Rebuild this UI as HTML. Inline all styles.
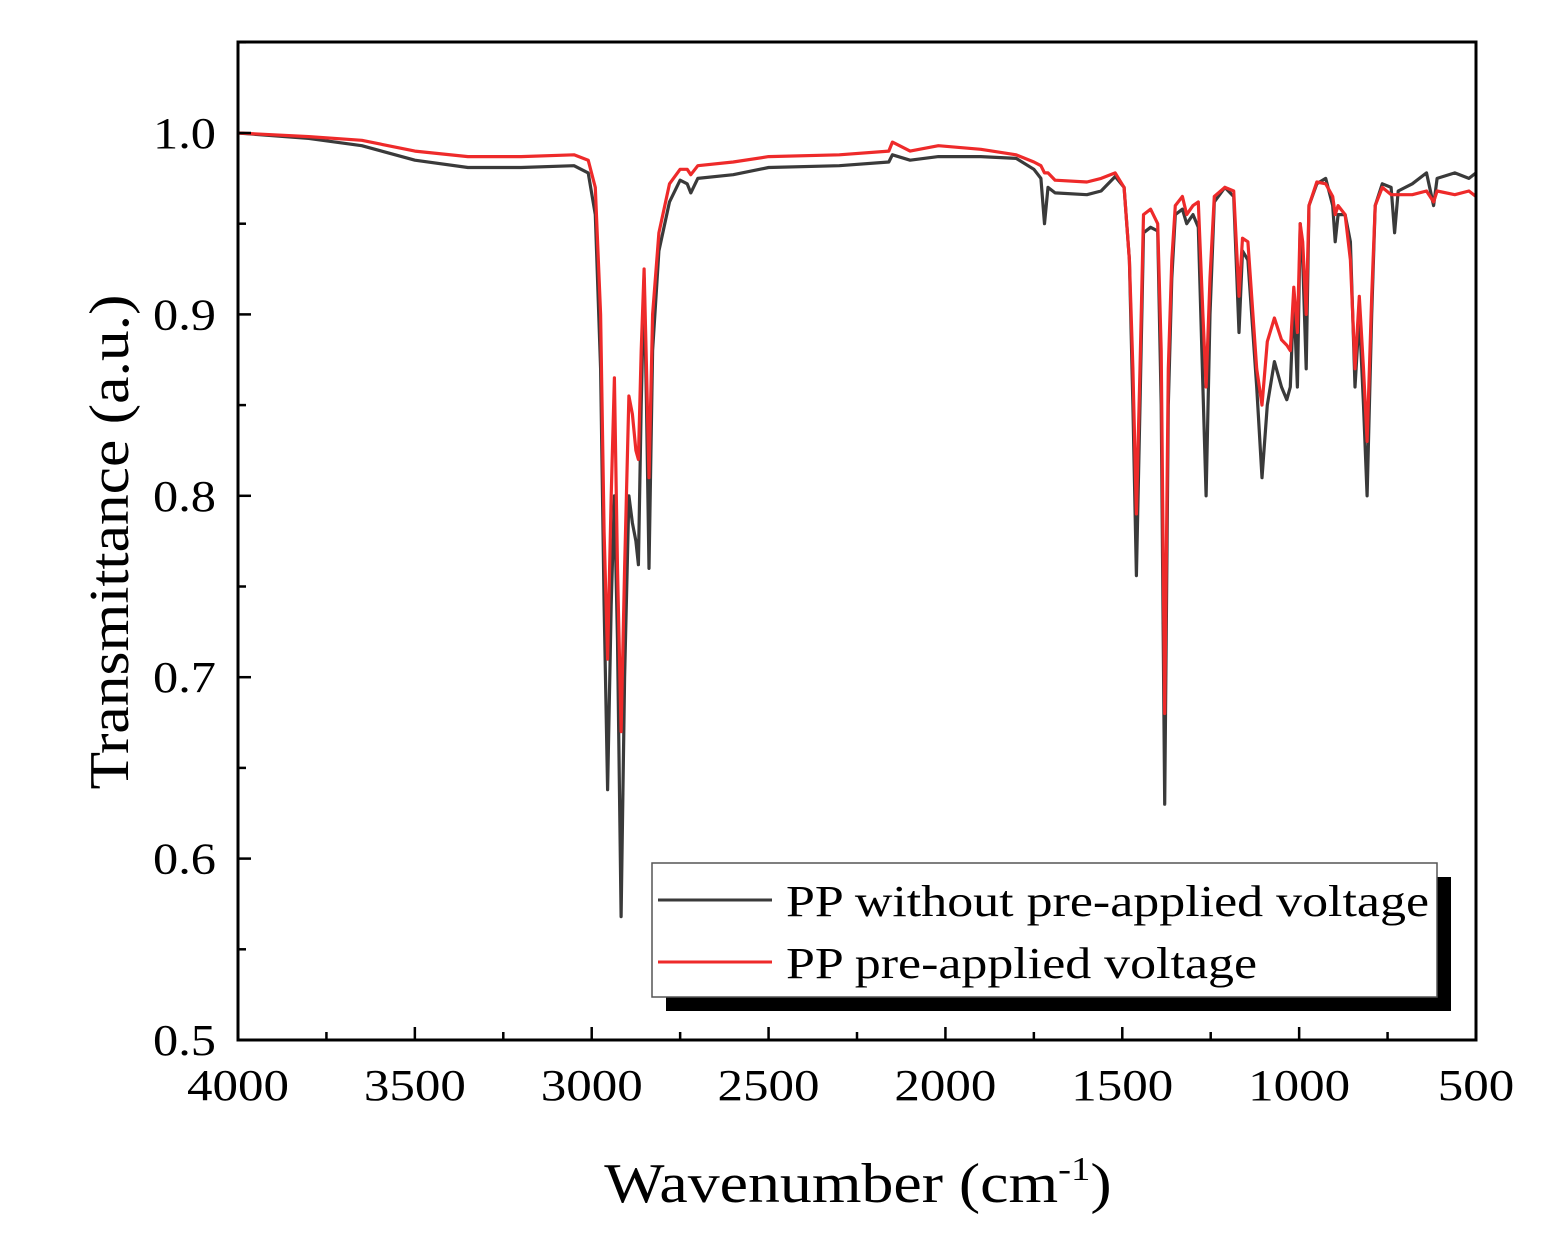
<!DOCTYPE html>
<html><head><meta charset="utf-8"><style>
body{margin:0;background:#fff}
svg text{font-family:"Liberation Serif",serif;fill:#000}
</style></head><body>
<svg id="chart" width="1550" height="1251" viewBox="0 0 1550 1251">
<rect width="1550" height="1251" fill="#fff"/>
<g id="series"></g>
<g id="axes"></g>
<text transform="translate(858,0) scale(1.14,1) translate(-858,0)" x="858" y="1202" font-size="56" text-anchor="middle">Wavenumber (cm<tspan font-size="34" dy="-22">-1</tspan><tspan dy="22">)</tspan></text>
<text transform="translate(128,542) rotate(-90)" font-size="56" text-anchor="middle" textLength="495" lengthAdjust="spacingAndGlyphs">Transmittance (a.u.)</text>
<g>
<rect x="666" y="877" width="785" height="134" fill="#000"/>
<rect x="652" y="863" width="785" height="134" fill="#fff" stroke="#555" stroke-width="1.5"/>
<line x1="658" y1="900" x2="772" y2="900" stroke="#3a3a3a" stroke-width="3"/>
<text x="786" y="916" font-size="44" textLength="643" lengthAdjust="spacingAndGlyphs">PP without pre-applied voltage</text>
<line x1="658" y1="962" x2="772" y2="962" stroke="#ee2a2a" stroke-width="3"/>
<text x="786" y="978" font-size="44" textLength="471" lengthAdjust="spacingAndGlyphs">PP pre-applied voltage</text>
</g>
</svg>
<script>
const wn=[4000,3800,3650,3500,3350,3200,3050,3010,2990,2975,2965,2955,2945,2936,2927,2917,2907,2895,2885,2875,2868,2860,2852,2845,2838,2828,2810,2780,2750,2730,2720,2700,2600,2500,2300,2160,2150,2100,2020,1900,1800,1750,1730,1720,1710,1690,1600,1560,1520,1495,1480,1470,1460,1450,1440,1420,1400,1390,1380,1370,1360,1350,1330,1318,1300,1285,1272,1263,1252,1240,1210,1185,1170,1160,1145,1120,1105,1090,1070,1050,1035,1025,1015,1005,997,990,980,972,950,925,905,898,890,870,855,842,830,818,808,795,785,765,740,730,720,680,640,620,610,560,520,500];
const blackT=[1.000,0.997,0.993,0.985,0.981,0.981,0.982,0.978,0.955,0.87,0.74,0.638,0.74,0.80,0.72,0.568,0.70,0.80,0.785,0.775,0.762,0.85,0.92,0.85,0.76,0.88,0.935,0.962,0.974,0.972,0.967,0.975,0.977,0.981,0.982,0.984,0.988,0.985,0.987,0.987,0.986,0.980,0.975,0.950,0.970,0.967,0.966,0.968,0.976,0.97,0.93,0.85,0.756,0.85,0.945,0.948,0.946,0.85,0.63,0.85,0.92,0.955,0.958,0.95,0.955,0.948,0.86,0.80,0.90,0.962,0.970,0.965,0.89,0.935,0.93,0.86,0.81,0.85,0.874,0.86,0.853,0.86,0.91,0.86,0.95,0.93,0.87,0.96,0.972,0.975,0.96,0.94,0.955,0.955,0.94,0.86,0.90,0.85,0.80,0.90,0.96,0.972,0.970,0.945,0.968,0.972,0.978,0.96,0.975,0.978,0.975,0.978];
const redT=[1.000,0.998,0.996,0.990,0.987,0.987,0.988,0.985,0.97,0.9,0.78,0.71,0.80,0.865,0.76,0.67,0.76,0.855,0.845,0.825,0.82,0.88,0.925,0.87,0.81,0.90,0.945,0.972,0.98,0.98,0.977,0.982,0.984,0.987,0.988,0.990,0.995,0.990,0.993,0.991,0.988,0.984,0.982,0.978,0.978,0.974,0.973,0.975,0.978,0.97,0.93,0.87,0.79,0.87,0.955,0.958,0.95,0.88,0.68,0.87,0.93,0.96,0.965,0.955,0.96,0.962,0.90,0.86,0.92,0.965,0.970,0.968,0.91,0.942,0.94,0.87,0.85,0.885,0.898,0.886,0.883,0.88,0.915,0.89,0.95,0.94,0.90,0.96,0.973,0.972,0.965,0.955,0.96,0.955,0.93,0.87,0.91,0.87,0.83,0.91,0.96,0.970,0.966,0.966,0.966,0.966,0.968,0.962,0.968,0.966,0.968,0.965];
const xTicks=[4000,3500,3000,2500,2000,1500,1000,500];
const yTicks=[0.5,0.6,0.7,0.8,0.9,1.0];
const L=238,R=1476,T=42,B=1040;
const xs=v=>L+(4000-v)/3500*(R-L);
const ys=v=>133+(1-v)*1814;
const NS='http://www.w3.org/2000/svg';
function mk(tag,attrs,parent){const e=document.createElementNS(NS,tag);for(const k in attrs)e.setAttribute(k,attrs[k]);parent.appendChild(e);return e;}
const sg=document.getElementById('series'),ag=document.getElementById('axes');
[[blackT,'#3a3a3a','series-pp-without-voltage'],[redT,'#ee2a2a','series-pp-pre-applied-voltage']].forEach(([arr,c,n])=>{
 const p=mk('polyline',{points:wn.map((w,i)=>xs(w).toFixed(1)+','+ys(arr[i]).toFixed(1)).join(' '),fill:'none',stroke:c,'stroke-width':3.2,'stroke-linejoin':'round'},sg);
 
 
});
const fr=mk('rect',{x:L,y:T,width:R-L,height:B-T,fill:'none',stroke:'#000','stroke-width':3},ag);


xTicks.forEach((v,i)=>{
 const x=xs(v);
 const t=mk('line',{x1:x,y1:B,x2:x,y2:B-13,stroke:'#000','stroke-width':2.5},ag);
 
 
 if(i<xTicks.length-1){const m=xs(v-250);mk('line',{x1:m,y1:B,x2:m,y2:B-8,stroke:'#000','stroke-width':2.5},ag);}
 const s=String(v);
 const lb=mk('text',{x:x,y:1100,'font-size':44,'text-anchor':'middle',textLength:s.length*25.5,lengthAdjust:'spacingAndGlyphs'},ag);lb.textContent=s;
 
 
});
yTicks.forEach((v,i)=>{
 const y=ys(v);
 const t=mk('line',{x1:L,y1:y,x2:L+13,y2:y,stroke:'#000','stroke-width':2.5},ag);
 
 
 const m=ys(v+0.05);mk('line',{x1:L,y1:m,x2:L+8,y2:m,stroke:'#000','stroke-width':2.5},ag);
 const lb=mk('text',{x:216,y:y+15,'font-size':44,'text-anchor':'end',textLength:63,lengthAdjust:'spacingAndGlyphs'},ag);lb.textContent=v.toFixed(1);
 
 
});
</script>
</body></html>
